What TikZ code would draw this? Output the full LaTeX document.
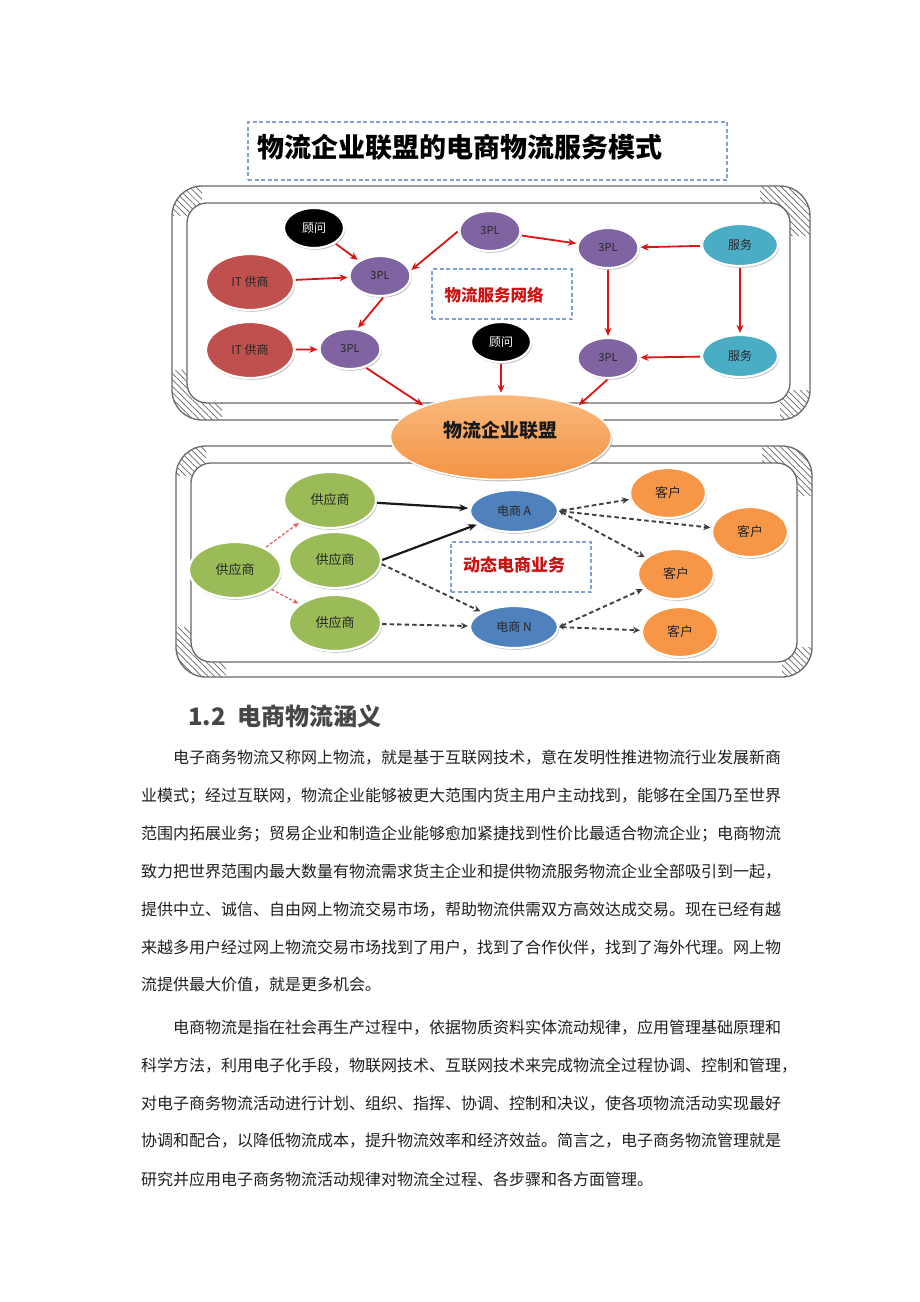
\documentclass[tikz,border=0pt]{standalone}
\usepackage{fontspec}
\setmainfont{Noto Sans CJK SC}
\usetikzlibrary{shapes.geometric,arrows.meta,shadows,patterns.meta}
\XeTeXlinebreaklocale "zh"
\XeTeXlinebreakskip=0pt plus 1pt
\definecolor{cRed}{RGB}{192,80,77}
\definecolor{cPur}{RGB}{128,100,162}
\definecolor{cCyan}{RGB}{75,172,198}
\definecolor{cGreen}{RGB}{155,187,89}
\definecolor{cBlue}{RGB}{79,129,189}
\definecolor{cOrg}{RGB}{247,150,70}
\definecolor{arrRed}{RGB}{220,20,20}
\definecolor{dashBlue}{RGB}{130,160,210}
\definecolor{txtRed}{RGB}{200,20,20}
\definecolor{frameGray}{RGB}{105,105,105}
\definecolor{headGray}{RGB}{70,70,70}
\newcommand\bevelframe[8]{%
 \begin{scope}
  \clip (#1,#2) rectangle (#1+30,#2+30) (#3-50,#2) rectangle (#3,#2+50)
        (#1,#4-50) rectangle (#1+50,#4) (#3-30,#4-30) rectangle (#3,#4);
  \fill[pattern={Lines[angle=-45,distance=4.5pt,line width=0.7pt]}, pattern color=black!60, even odd rule]
     [rounded corners=30pt] (#1,#2) rectangle (#3,#4) [rounded corners=20pt] (#5,#6) rectangle (#7,#8);
 \end{scope}
 \draw[frameline, rounded corners=30pt] (#1,#2) rectangle (#3,#4);
 \draw[frameline, rounded corners=20pt] (#5,#6) rectangle (#7,#8);
}
\tikzset{
 frameline/.style={draw=frameGray, line width=1.3pt},
 bub/.style={ellipse, draw=white, line width=2.2pt, inner sep=0pt,
   drop shadow={shadow xshift=1.2pt, shadow yshift=-1.8pt, fill=black!45, opacity=0.55},
   font=\fontsize{12}{12}\selectfont, text=black!85},
 gw/.style={bub, fill=black, text=white, minimum width=60pt, minimum height=40pt},
 it/.style={bub, fill=cRed, minimum width=88pt, minimum height=56pt},
 pl/.style={bub, fill=cPur, minimum width=61pt, minimum height=40pt, font=\fontsize{11}{11}\selectfont},
 sv/.style={bub, fill=cCyan, minimum width=76pt, minimum height=42pt},
 sup/.style={bub, fill=cGreen, minimum width=92pt, minimum height=56pt, font=\fontsize{13}{13}\selectfont},
 ec/.style={bub, fill=cBlue, minimum width=88pt, minimum height=42pt},
 kh/.style={bub, fill=cOrg, minimum width=76pt, minimum height=50pt, font=\fontsize{13}{13}\selectfont},
 dbox/.style={draw=dashBlue, line width=1.2pt, dash pattern=on 4pt off 2.5pt, inner sep=0pt},
 ra/.style={draw=arrRed, line width=1.8pt, -{Stealth[length=8pt,width=7pt]}, shorten >=1pt, shorten <=1pt},
 ba/.style={draw=black!90, line width=2.2pt, -{Stealth[length=9pt,width=7pt]}, shorten >=1pt},
 da/.style={draw=black!75, line width=1.9pt, dash pattern=on 4.5pt off 3pt, -{Stealth[length=7pt,width=6.5pt]}, shorten >=1pt},
 dda/.style={da, {Stealth[length=5pt,width=5pt]}-{Stealth[length=7pt,width=6.5pt]}},
 rda/.style={draw=arrRed!70, line width=1.2pt, dash pattern=on 3pt off 2pt, -{Stealth[length=6pt,width=5pt]}, shorten >=1pt, shorten <=1pt},
 body/.style={anchor=west, inner sep=0pt, font=\fontsize{16}{16}\selectfont, text=black!88}
}
\begin{document}
\begin{tikzpicture}[x=1pt,y=-1pt]
\useasboundingbox (0,0) rectangle (920,1302);
\fill[white] (0,0) rectangle (920,1302);

% title
\node[dbox, minimum width=479pt, minimum height=58pt] (tbox) at (487.5,151) {};
\node[anchor=west, inner sep=0pt, font=\bfseries\fontsize{27}{27}\selectfont] (title) at (257,147) {物流企业联盟的电商物流服务模式};

% frames
\bevelframe{172}{186}{810}{420}{187}{203}{790}{403}
\bevelframe{176}{446}{812}{677}{191}{463}{797}{662}

% boxes
\node[dbox, minimum width=140pt, minimum height=50pt] (netbox) at (502,294) {};
\node[font=\bfseries\fontsize{16.5}{16.5}\selectfont, text=txtRed, inner sep=0pt] (nettxt) at (494,295) {物流服务网络};
\node[dbox, minimum width=140pt, minimum height=50pt] (dynbox) at (521,567) {};
\node[font=\bfseries\fontsize{17}{17}\selectfont, text=txtRed, inner sep=0pt] (dyntxt) at (514,565) {动态电商业务};

% top nodes
\node[gw] (gw1) at (314,228) {顾问};
\node[it] (it1) at (250,282) {IT 供商};
\node[pl] (p1) at (380,276) {3PL};
\node[pl] (p2) at (490,231) {3PL};
\node[pl] (p3) at (608,248) {3PL};
\node[sv] (sv1) at (740,245) {服务};
\node[it] (it2) at (250,350) {IT 供商};
\node[pl] (p5) at (350,349) {3PL};
\node[gw] (gw2) at (501,342) {顾问};
\node[pl] (p4) at (608,358) {3PL};
\node[sv] (sv2) at (740,356) {服务};

% alliance
\node[ellipse, draw=white, line width=1.5pt, minimum width=221pt, minimum height=85pt, inner sep=0pt,
  top color={rgb,255:red,250;green,185;blue,125}, bottom color={rgb,255:red,243;green,148;blue,68},
  drop shadow={shadow xshift=1.2pt, shadow yshift=-1.8pt, fill=black!45, opacity=0.55}] (lm) at (501,437) {};
\node[font=\bfseries\fontsize{19}{19}\selectfont, inner sep=0pt, text=black!90] (lmt) at (500,430) {物流企业联盟};

% bottom nodes
\node[sup] (s1) at (330,500) {供应商};
\node[sup] (s0) at (235,570) {供应商};
\node[sup] (s2) at (335,560) {供应商};
\node[sup] (s3) at (335,623) {供应商};
\node[ec] (ea) at (514,511) {电商 A};
\node[ec] (en) at (514,627) {电商 N};
\node[kh] (k1) at (668,493) {客户};
\node[kh] (k2) at (750,532) {客户};
\node[kh] (k3) at (676,574) {客户};
\node[kh] (k4) at (680,632) {客户};

% top arrows
\draw[ra] (gw1) -- (p1);
\draw[ra] (it1) -- (p1);
\draw[ra] (p2.west) -- (p1.10);
\draw[ra] (p2) -- (p3);
\draw[ra] (sv1) -- (p3);
\draw[ra] (p3) -- (p4);
\draw[ra] (sv1) -- (sv2);
\draw[ra] (sv2) -- (p4);
\draw[ra] (p1.-80) -- (p5.70);
\draw[ra] (it2) -- (p5);
\draw[ra] (p5.-50) -- (lm.158);
\draw[ra] (gw2) -- (lm);
\draw[ra] (p4.south) -- (lm.22);

% bottom arrows
\draw[ba] (s1) -- (ea);
\draw[ba] (s2.east) -- (ea.200);
\draw[da] (s2.-5) -- (en.155);
\draw[da] (s3) -- (en);
\draw[rda] (s0) -- (s1);
\draw[rda] (s0) -- (s3);
\draw[dda] (ea.east) -- (k1);
\draw[dda] (ea.east) -- (k2);
\draw[dda] (ea.east) -- (k3);
\draw[dda] (en.east) -- (k3);
\draw[dda] (en.east) -- (k4);

% text
\node[anchor=west, inner sep=0pt, font=\bfseries\fontsize{24}{24}\selectfont, text=headGray] (h12) at (188,716) {1.2\hspace{0.5em}电商物流涵义};

\node[body] (a1) at (173,758) {\hbox to 612pt{电子商务物流又称网上物流，就是基于互联网技术，意在发明性推进物流行业发展新商}};
\node[body] (a2) at (141,796) {\hbox to 644pt{业模式；经过互联网，物流企业能够被更大范围内货主用户主动找到，能够在全国乃至世界}};
\node[body] (a3) at (141,834) {\hbox to 644pt{范围内拓展业务；贸易企业和制造企业能够愈加紧捷找到性价比最适合物流企业；电商物流}};
\node[body] (a4) at (141,872) {\hbox to 644pt{致力把世界范围内最大数量有物流需求货主企业和提供物流服务物流企业全部吸引到一起，}};
\node[body] (a5) at (141,910) {\hbox to 644pt{提供中立、诚信、自由网上物流交易市场，帮助物流供需双方高效达成交易。现在已经有越}};
\node[body] (a6) at (141,948) {\hbox to 644pt{来越多用户经过网上物流交易市场找到了用户，找到了合作伙伴，找到了海外代理。网上物}};
\node[body] (a7) at (141,985) {流提供最大价值，就是更多机会。};

\node[body] (b1) at (173,1028) {\hbox to 612pt{电商物流是指在社会再生产过程中，依据物质资料实体流动规律，应用管理基础原理和}};
\node[body] (b2) at (141,1066) {\hbox to 644pt{科学方法，利用电子化手段，物联网技术、互联网技术来完成物流全过程协调、控制和管理，}};
\node[body] (b3) at (141,1104) {\hbox to 644pt{对电子商务物流活动进行计划、组织、指挥、协调、控制和决议，使各项物流活动实现最好}};
\node[body] (b4) at (141,1141) {\hbox to 644pt{协调和配合，以降低物流成本，提升物流效率和经济效益。简言之，电子商务物流管理就是}};
\node[body] (b5) at (141,1179) {研究并应用电子商务物流活动规律对物流全过程、各步骤和各方面管理。};
\end{tikzpicture}
\end{document}
